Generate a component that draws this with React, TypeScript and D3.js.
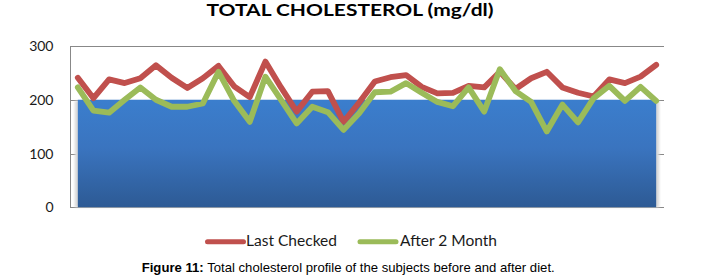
import React from "react";
import * as d3 from "d3";

const subjects: number[] = Array.from({ length: 38 }, (_, i) => i + 1);
const lastChecked: number[] = [
  241, 203, 238, 231, 240, 264, 241, 222, 240, 263,
  225, 205, 271, 223, 178, 215, 216, 159, 195, 234,
  242, 246, 224, 212, 213, 226, 223, 252, 220, 240,
  252, 223, 213, 206, 238, 231, 243, 265,
];
const after2Month: number[] = [
  223, 180, 176, 200, 223, 200, 187, 187, 193, 252,
  198, 159, 243, 200, 156, 187, 177, 144, 175, 214,
  215, 231, 213, 196, 188, 223, 178, 257, 216, 196,
  141, 191, 158, 203, 226, 198, 224, 198,
];
const referenceLevel: number[] = subjects.map(() => 200);
const yTicks: number[] = [0, 100, 200, 300];
const seriesNames: string[] = ["Last Checked", "After 2 Month"];
const seriesColors: string[] = ["#C0504D", "#9BBB59"];
const titleText = "TOTAL CHOLESTEROL (mg/dl)";
const captionBold = "Figure 11:";
const captionRest = " Total cholesterol profile of the subjects before and after diet.";

export default function App() {
  const W = 708;
  const H = 280;
  const left = 70;
  const right = 664;
  const top = 46;
  const bottom = 207.3;

  const x = d3
    .scaleBand<number>()
    .domain(subjects)
    .range([left, right])
    .paddingInner(0)
    .paddingOuter(0);
  const cx = (d: number) => (x(d) as number) + x.bandwidth() / 2;
  const y = d3.scaleLinear().domain([0, 300]).range([bottom, top]);

  const line = d3
    .line<number>()
    .x((_, i) => cx(subjects[i]))
    .y((v) => y(v));
  const area = d3
    .area<number>()
    .x((_, i) => cx(subjects[i]))
    .y0(y(0))
    .y1((v) => y(v));

  const x0 = cx(subjects[0]);
  const x1 = cx(subjects[subjects.length - 1]);

  const font = "Lato, 'Open Sans', sans-serif";

  return (
    <svg
      width={W}
      height={H}
      style={{ position: "absolute", left: 0, top: 0, display: "block" }}
    >
      <defs>
        <linearGradient id="blueGrad" x1="0" y1="0" x2="0" y2="1">
          <stop offset="0%" stopColor="#3b7ecd" />
          <stop offset="45%" stopColor="#3a74bf" />
          <stop offset="100%" stopColor="#2d5a94" />
        </linearGradient>
        <filter id="blur" x="-0.1" y="-0.1" width="1.2" height="1.2">
          <feGaussianBlur stdDeviation="1.2" />
        </filter>
      </defs>
      <rect x={0} y={0} width={W} height={H} fill="#ffffff" />

      {/* title */}
      <text
        x={350}
        y={15.5}
        textAnchor="middle"
        fontFamily={font}
        fontWeight="bold"
        fontSize={17.5}
        fill="#000"
        textLength={287}
        lengthAdjust="spacingAndGlyphs"
      >
        {titleText}
      </text>

      {/* gridlines */}
      {yTicks.map((t) => (
        <line
          key={"g" + t}
          x1={left}
          x2={right}
          y1={Math.round(y(t)) + 0.5}
          y2={Math.round(y(t)) + 0.5}
          stroke="#888888"
          strokeWidth={1}
        />
      ))}
      <line
        x1={left + 0.5}
        x2={left + 0.5}
        y1={top}
        y2={bottom}
        stroke="#888888"
        strokeWidth={1}
      />

      {/* reference area with shadow */}
      <rect
        x={x0 - 3}
        y={y(200) + 1}
        width={x1 - x0 + 6}
        height={y(0) - y(200) - 1}
        fill="#d9d9d9"
        filter="url(#blur)"
      />
      <path d={area(referenceLevel) || ""} fill="url(#blueGrad)" />

      {/* lines */}
      {[lastChecked, after2Month].map((s, k) => (
        <path
          key={"l" + k}
          d={line(s) || ""}
          fill="none"
          stroke={seriesColors[k]}
          strokeWidth={5.8}
          strokeLinejoin="round"
          strokeLinecap="round"
        />
      ))}

      {/* y tick labels */}
      {yTicks.map((t) => (
        <text
          key={"t" + t}
          x={53.5}
          y={y(t) + 5}
          textAnchor="end"
          fontFamily={font}
          fontSize={14}
          fill="#1a1a1a"
        >
          {t}
        </text>
      ))}

      {/* legend */}
      {[
        { lx: 205, tx: 246, tw: 91 },
        { lx: 357.5, tx: 400, tw: 97 },
      ].map((p, k) => (
        <g key={"lg" + k}>
          <line
            x1={p.lx + 2.5}
            x2={p.lx + 38.5}
            y1={241.7}
            y2={241.7}
            stroke={seriesColors[k]}
            strokeWidth={5}
            strokeLinecap="round"
          />
          <text
            x={p.tx}
            y={246.3}
            fontFamily={font}
            fontSize={15.5}
            fill="#1a1a1a"
            textLength={p.tw}
            lengthAdjust="spacingAndGlyphs"
          >
            {seriesNames[k]}
          </text>
        </g>
      ))}

      {/* caption */}
      <text
        x={141.7}
        y={272.3}
        fontFamily="'Liberation Sans', Arial, sans-serif"
        fontSize={13.5}
        fill="#000"
        textLength={413}
        lengthAdjust="spacingAndGlyphs"
      >
        <tspan fontWeight="bold">{captionBold}</tspan>
        <tspan>{captionRest}</tspan>
      </text>
    </svg>
  );
}
